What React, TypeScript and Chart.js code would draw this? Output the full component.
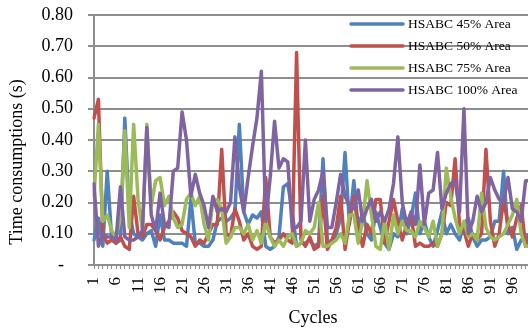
import React, { useEffect, useRef } from 'react';
import { Chart, registerables } from 'chart.js';

Chart.register(...registerables);

// Cycle numbers 1..100 on the category axis
const cycles: string[] = Array.from({ length: 100 }, (_, i) => String(i + 1));

const area45: number[] = [
  0.08, 0.15, 0.06, 0.30, 0.09, 0.07, 0.08, 0.47, 0.17, 0.10,
  0.09, 0.08, 0.10, 0.11, 0.06, 0.16, 0.08, 0.08, 0.07, 0.07,
  0.07, 0.06, 0.21, 0.07, 0.07, 0.06, 0.06, 0.08, 0.14, 0.15,
  0.14, 0.15, 0.17, 0.45, 0.17, 0.13, 0.16, 0.15, 0.17, 0.06,
  0.05, 0.06, 0.09, 0.25, 0.26, 0.17, 0.06, 0.07, 0.07, 0.08,
  0.06, 0.07, 0.34, 0.08, 0.07, 0.10, 0.15, 0.36, 0.13, 0.27,
  0.12, 0.17, 0.10, 0.08, 0.17, 0.12, 0.07, 0.05, 0.10, 0.09,
  0.18, 0.10, 0.15, 0.23, 0.10, 0.14, 0.09, 0.06, 0.11, 0.17,
  0.10, 0.13, 0.10, 0.08, 0.13, 0.15, 0.09, 0.06, 0.08, 0.08,
  0.09, 0.14, 0.14, 0.30, 0.10, 0.12, 0.05, 0.08, 0.09, 0.10,
];

const area50: number[] = [
  0.47, 0.53, 0.10, 0.07, 0.08, 0.07, 0.09, 0.06, 0.05, 0.22,
  0.10, 0.09, 0.13, 0.13, 0.11, 0.08, 0.12, 0.14, 0.17, 0.15,
  0.11, 0.10, 0.09, 0.06, 0.08, 0.07, 0.10, 0.13, 0.13, 0.37,
  0.10, 0.09, 0.18, 0.14, 0.08, 0.10, 0.06, 0.05, 0.06, 0.28,
  0.09, 0.07, 0.08, 0.10, 0.08, 0.07, 0.68, 0.08, 0.06, 0.09,
  0.05, 0.06, 0.22, 0.05, 0.08, 0.12, 0.22, 0.05, 0.14, 0.22,
  0.12, 0.06, 0.13, 0.10, 0.21, 0.21, 0.07, 0.14, 0.21, 0.14,
  0.08, 0.13, 0.16, 0.06, 0.07, 0.06, 0.06, 0.07, 0.06, 0.10,
  0.20, 0.19, 0.34, 0.13, 0.11, 0.06, 0.10, 0.08, 0.10, 0.37,
  0.14, 0.06, 0.10, 0.21, 0.13, 0.09, 0.15, 0.19, 0.06, 0.10,
];

const area75: number[] = [
  0.22, 0.45, 0.14, 0.16, 0.11, 0.09, 0.15, 0.43, 0.12, 0.45,
  0.21, 0.11, 0.45, 0.19, 0.27, 0.28, 0.19, 0.22, 0.15, 0.12,
  0.13, 0.21, 0.23, 0.19, 0.22, 0.13, 0.08, 0.21, 0.21, 0.18,
  0.07, 0.09, 0.12, 0.12, 0.10, 0.13, 0.08, 0.11, 0.07, 0.14,
  0.09, 0.06, 0.08, 0.06, 0.09, 0.10, 0.06, 0.07, 0.11, 0.10,
  0.12, 0.20, 0.06, 0.06, 0.07, 0.08, 0.10, 0.07, 0.16, 0.16,
  0.07, 0.14, 0.27, 0.16, 0.06, 0.05, 0.14, 0.05, 0.16, 0.10,
  0.14, 0.11, 0.11, 0.09, 0.14, 0.12, 0.09, 0.14, 0.06, 0.10,
  0.31, 0.22, 0.15, 0.10, 0.14, 0.09, 0.10, 0.08, 0.23, 0.12,
  0.09, 0.08, 0.09, 0.10, 0.13, 0.16, 0.21, 0.10, 0.06, 0.06,
];

const area100: number[] = [
  0.26, 0.06, 0.10, 0.09, 0.09, 0.08, 0.25, 0.09, 0.08, 0.08,
  0.09, 0.11, 0.44, 0.16, 0.11, 0.23, 0.13, 0.12, 0.30, 0.31,
  0.49, 0.40, 0.22, 0.29, 0.23, 0.19, 0.12, 0.22, 0.17, 0.18,
  0.17, 0.20, 0.41, 0.25, 0.17, 0.28, 0.38, 0.47, 0.62, 0.14,
  0.28, 0.46, 0.31, 0.34, 0.33, 0.12, 0.12, 0.14, 0.40, 0.14,
  0.21, 0.24, 0.30, 0.12, 0.12, 0.20, 0.29, 0.22, 0.19, 0.18,
  0.24, 0.14, 0.18, 0.21, 0.14, 0.17, 0.14, 0.18, 0.26, 0.41,
  0.20, 0.13, 0.17, 0.13, 0.32, 0.13, 0.23, 0.24, 0.36, 0.18,
  0.23, 0.26, 0.27, 0.17, 0.50, 0.10, 0.14, 0.22, 0.17, 0.20,
  0.28, 0.24, 0.21, 0.20, 0.28, 0.18, 0.17, 0.14, 0.27, 0.27,
];

const seriesNames: string[] = ['HSABC 45% Area', 'HSABC 50% Area', 'HSABC 75% Area', 'HSABC 100% Area'];
const seriesColors: string[] = ['#4F81BD', '#C0504D', '#9BBB59', '#8064A2'];
const seriesValues: number[][] = [area45, area50, area75, area100];

const yAxisTitle = 'Time consumptions (s)';
const xAxisTitle = 'Cycles';

const SERIF = '"Liberation Serif", "Times New Roman", serif';
const GRID = '#8e8e8e';

// Axis titles and the series key, painted on top of the plot
const titlesAndKey = {
  id: 'titlesAndKey',
  afterDraw(chart: any) {
    const { ctx } = chart;
    ctx.save();
    ctx.fillStyle = '#000';
    ctx.textBaseline = 'middle';

    ctx.font = `18px ${SERIF}`;
    ctx.textAlign = 'center';
    ctx.save();
    ctx.translate(17, 162);
    ctx.rotate(-Math.PI / 2);
    ctx.fillText(yAxisTitle, 0, 0);
    ctx.restore();
    ctx.fillText(xAxisTitle, 313, 318);

    ctx.font = `13.5px ${SERIF}`;
    ctx.textAlign = 'left';
    ctx.lineCap = 'round';
    ctx.lineWidth = 3.5;
    seriesNames.forEach((name, i) => {
      const y = 24 + i * 22;
      ctx.strokeStyle = seriesColors[i];
      ctx.beginPath();
      ctx.moveTo(351, y);
      ctx.lineTo(403, y);
      ctx.stroke();
      ctx.fillText(name, 408, y + 0.5);
    });
    ctx.restore();
  },
};

export default function App() {
  const canvasRef = useRef<HTMLCanvasElement | null>(null);

  useEffect(() => {
    if (!canvasRef.current) return;
    const chart = new Chart(canvasRef.current, {
      type: 'line',
      data: {
        labels: cycles,
        datasets: seriesValues.map((values, i) => ({
          label: seriesNames[i],
          data: values,
          borderColor: seriesColors[i],
          backgroundColor: seriesColors[i],
          borderWidth: 3.5,
          pointRadius: 0,
          pointHoverRadius: 0,
          tension: 0,
          borderJoinStyle: 'round' as const,
          borderCapStyle: 'round' as const,
          order: seriesValues.length - i,
        })),
      },
      options: {
        responsive: false,
        animation: false,
        events: [],
        layout: { padding: { top: 15, right: 16, bottom: 0, left: 0 } },
        plugins: {
          legend: { display: false },
          tooltip: { enabled: false },
          title: { display: false },
        },
        scales: {
          x: {
            type: 'category',
            offset: false,
            afterFit: (scale: any) => {
              scale.height = 66;
              scale.paddingLeft = 0;
              scale.paddingRight = 0;
            },
            grid: {
              display: true,
              drawOnChartArea: false,
              drawTicks: true,
              tickLength: 4,
              color: GRID,
              lineWidth: 1,
            },
            border: { display: true, color: GRID, width: 2 },
            ticks: {
              autoSkip: false,
              maxRotation: 90,
              minRotation: 90,
              padding: 8,
              color: '#000',
              font: { family: SERIF, size: 17 },
              callback: (_v: any, i: number) => (i % 5 === 0 ? cycles[i] : ''),
            },
          },
          y: {
            min: 0,
            max: 0.8,
            afterFit: (scale: any) => {
              scale.width = 94;
              scale.paddingTop = 0;
              scale.paddingBottom = 0;
            },
            grid: {
              color: GRID,
              lineWidth: 2,
              drawTicks: true,
              tickLength: 6,
            },
            border: { display: true, color: GRID, width: 2 },
            ticks: {
              stepSize: 0.1,
              padding: 15,
              color: '#000',
              font: { family: SERIF, size: 18 },
              callback: (v: any) => (Number(v) === 0 ? '-  ' : Number(v).toFixed(2)),
            },
          },
        },
      },
      plugins: [titlesAndKey],
    });
    return () => chart.destroy();
  }, []);

  return (
    <div
      style={{
        position: 'fixed',
        left: 0,
        top: 0,
        width: 528,
        height: 331,
        overflow: 'hidden',
        background: '#fff',
      }}
    >
      <canvas ref={canvasRef} width={546} height={331} style={{ display: 'block' }} />
    </div>
  );
}
